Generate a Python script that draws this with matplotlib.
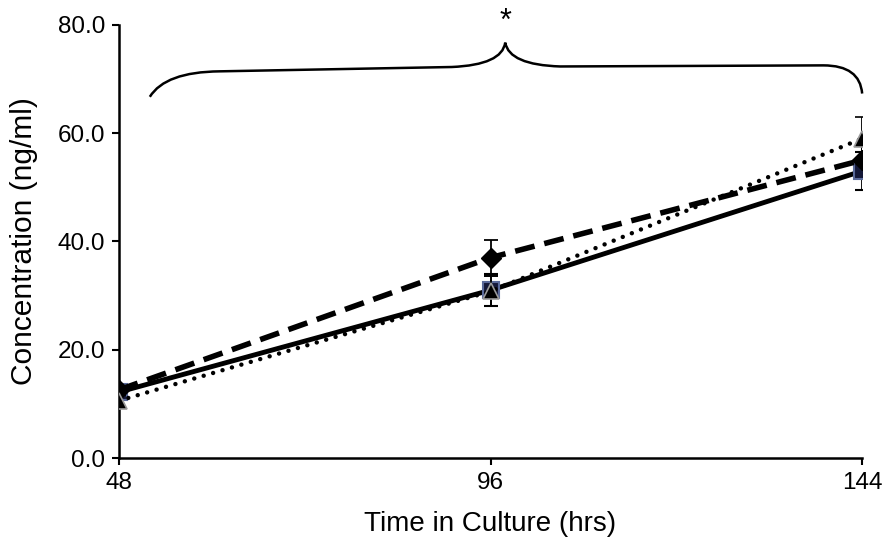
import numpy as np
import matplotlib
matplotlib.use("Agg")
import matplotlib.pyplot as plt
from matplotlib.path import Path
from matplotlib.patches import PathPatch

plt.rcParams['font.family'] = ['Liberation Sans', 'DejaVu Sans']

#%% data
hours = [48, 96, 144]
solid_vals = [12.2, 31.0, 53.0]     # squares, solid line
solid_err = [1.0, 3.0, 3.5]
dashed_vals = [12.6, 37.0, 55.0]    # diamonds, dashed line
dashed_err = [1.0, 3.3, 3.0]
dotted_vals = [10.6, 30.8, 59.0]    # triangles, dotted line
dotted_err = [1.0, 2.8, 4.0]
yticks = [0, 20, 40, 60, 80]

#%% plot
fig = plt.figure(figsize=(8.87, 5.5), dpi=100)
ax = fig.add_axes([0.134, 0.167, 0.838, 0.788])

ax.errorbar(hours, solid_vals, yerr=solid_err, color='black', lw=3.5, ls='-',
            marker='s', ms=11, mfc='#141838', mec='#5a6a9a', mew=1.5,
            ecolor='black', elinewidth=1.3, capsize=5, capthick=1.3, zorder=3)
ax.errorbar(hours, dashed_vals, yerr=dashed_err, color='black', lw=4, ls=(0, (3.6, 1.8)),
            marker='D', ms=10, mfc='black', mec='black',
            ecolor='black', elinewidth=1.3, capsize=5, capthick=1.3, zorder=3)
ax.errorbar(hours, dotted_vals, yerr=dotted_err, color='black', lw=3.2, ls=(0, (0.01, 2.2)),
            dash_capstyle='round', marker='^', ms=11, mfc='black', mec='#9a9a9a', mew=1.2,
            ecolor='black', elinewidth=1.3, capsize=5, capthick=1.3, zorder=4)

# brace over the whole time range
verts = [(52, 66.7), (54, 71.3), (61, 71.4), (91, 72.2), (97.5, 72.6), (97.9, 76.7),
         (98.4, 72.6), (105, 72.3), (139, 72.5), (143.7, 72.5), (144, 67.3)]
codes = [Path.MOVETO, Path.CURVE3, Path.CURVE3, Path.LINETO, Path.CURVE3, Path.CURVE3,
         Path.CURVE3, Path.CURVE3, Path.LINETO, Path.CURVE3, Path.CURVE3]
ax.add_patch(PathPatch(Path(verts, codes), fc='none', ec='black', lw=1.8, clip_on=False))
ax.text(97.9, 80.6, '*', ha='center', va='center', fontsize=22, clip_on=False)

ax.set_xlim(48, 144)
ax.set_ylim(0, 80)
ax.set_xticks(hours)
ax.set_yticks(yticks)
ax.set_yticklabels(['%.1f' % v for v in yticks])
ax.tick_params(labelsize=17.5, width=1.5, length=5, pad=5)
ax.spines['top'].set_visible(False)
ax.spines['right'].set_visible(False)
ax.spines['left'].set_linewidth(1.8)
ax.spines['bottom'].set_linewidth(1.8)
ax.set_xlabel('Time in Culture (hrs)', fontsize=20, labelpad=12)
ax.set_ylabel('Concentration (ng/ml)', fontsize=21.5, labelpad=14)

fig.savefig('out.png', dpi=100)
